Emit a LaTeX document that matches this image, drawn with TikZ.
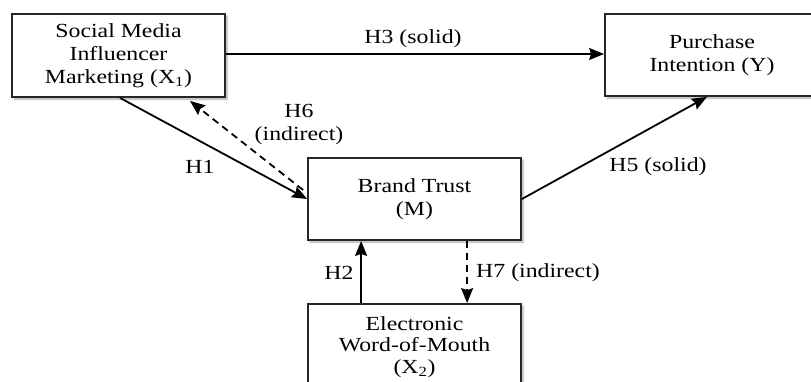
\documentclass[tikz,border=0pt]{standalone}
\usepackage{fontspec}
\setmainfont{Liberation Serif}
\usepackage{graphicx}
\usetikzlibrary{arrows.meta,shadows.blur}
\newcommand\sx[1]{\scalebox{1.19}[1]{#1}}
\begin{document}
\begin{tikzpicture}[x=1pt,y=-1pt,
 box/.style={draw=black!85,line width=1.8pt,fill=white,minimum width=213pt,minimum height=83pt,align=center,font=\fontsize{20}{23}\selectfont,inner sep=0pt,blur shadow={shadow xshift=2pt,shadow yshift=-2pt,shadow blur steps=4,shadow opacity=35}},
 lbl/.style={font=\fontsize{20}{23}\selectfont,inner sep=0pt,align=center},
 arr/.style={line width=1.8pt,-{Stealth[length=15pt,width=12pt,inset=2pt]}},
 dsh/.style={arr,dash pattern=on 7pt off 5pt}]
\useasboundingbox (0,0) rectangle (811,381);
\clip (0,0) rectangle (811,381);
\node[box] (x1) at (118.5,55.5) {\sx{Social Media}\\\sx{Influencer}\\\sx{Marketing (X\textsubscript{1})}};
\node[box,minimum width=214pt,minimum height=82pt] (y) at (712,55) {\sx{Purchase}\\\sx{Intention (Y)}};
\node[box,minimum height=82pt] (bt) at (414.5,199) {\sx{Brand Trust}\\\sx{(M)}};
\node[box,minimum height=86pt,font=\fontsize{20}{21.5}\selectfont] (ew) at (414.5,347) {\sx{Electronic}\\\sx{Word-of-Mouth}\\\sx{(X\textsubscript{2})}};
\draw[arr] ([yshift=1.5pt]x1.east) -- ([yshift=1.5pt]x1.east -| y.west);
\draw[arr] ([xshift=1.5pt]x1.south) -- (bt.west);
\draw[dsh] ([xshift=-4pt,yshift=9pt]bt.west) -- ([xshift=71.5pt,yshift=-3pt]x1.south);
\draw[arr] (bt.east) -- ([xshift=-5pt]y.south);
\draw[arr] ([xshift=54pt]ew.north west) -- ([xshift=54pt]bt.south west);
\draw[dsh] ([xshift=160pt]bt.south west) -- ([xshift=160pt]ew.north west);
\node[lbl] (l3) at (413,39) {\sx{H3 (solid)}};
\node[lbl] (l6) at (299,125) {\sx{H6}\\\sx{(indirect)}};
\node[lbl] (l1) at (200,167) {\sx{H1}};
\node[lbl] (l5) at (658,167) {\sx{H5 (solid)}};
\node[lbl] (l2) at (339,273) {\sx{H2}};
\node[lbl] (l7) at (538,273) {\sx{H7 (indirect)}};
\end{tikzpicture}
\end{document}
